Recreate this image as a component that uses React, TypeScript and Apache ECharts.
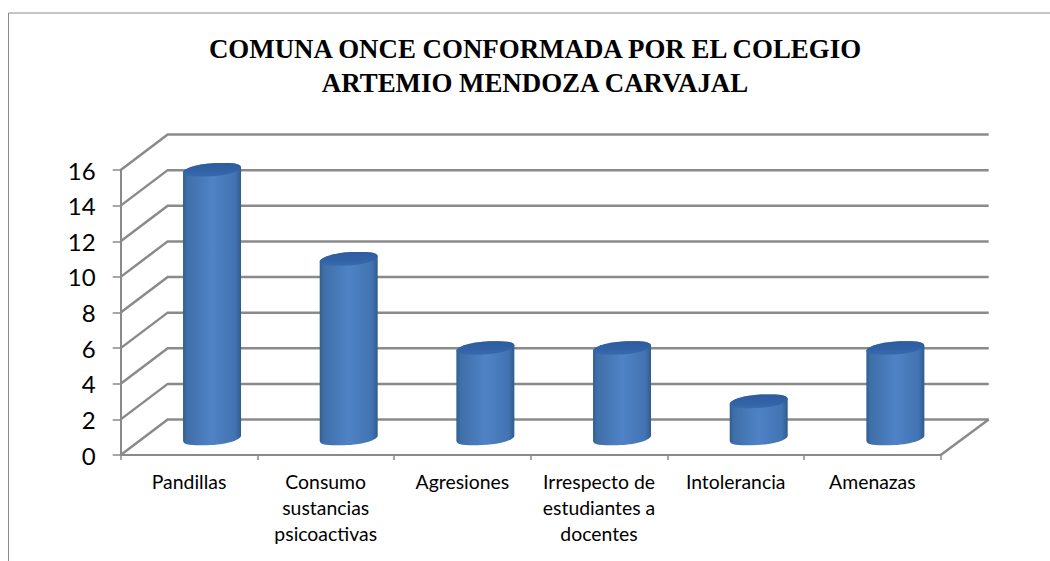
import React, { useEffect, useRef } from "react";
import * as echarts from "echarts";

const titleText = "COMUNA ONCE CONFORMADA POR EL COLEGIO\nARTEMIO MENDOZA CARVAJAL";
const categories = [
  "Pandillas",
  "Consumo\nsustancias\npsicoactivas",
  "Agresiones",
  "Irrespecto de\nestudiantes a\ndocentes",
  "Intolerancia",
  "Amenazas",
];
const values = [15, 10, 5, 5, 2, 5];
const yTicks = [0, 2, 4, 6, 8, 10, 12, 14, 16];

const DEPTH_X = 47;
const DEPTH_Y = 35.5;
const GRID_COLOR = "#8a8a8a";

export default function App() {
  const ref = useRef<HTMLDivElement>(null);
  useEffect(() => {
    const chart = echarts.init(ref.current!, null, { renderer: "svg" });
    chart.setOption({
      animation: false,
      backgroundColor: "#ffffff",
      title: {
        text: titleText,
        left: 530,
        top: 27,
        textAlign: "center",
        textStyle: {
          fontFamily: "Liberation Serif",
          fontWeight: "bold",
          fontSize: 26.9,
          lineHeight: 34,
          color: "#000000",
        },
      },
      grid: { left: 120.7, top: 170, width: 820, height: 285, containLabel: false },
      xAxis: {
        type: "category",
        data: categories,
        boundaryGap: true,
        axisLine: { show: true, lineStyle: { color: GRID_COLOR, width: 2 } },
        axisTick: { show: true, length: 5, alignWithLabel: false, lineStyle: { color: GRID_COLOR, width: 1.5 } },
        axisLabel: {
          interval: 0,
          margin: 13,
          fontFamily: "Lato",
          fontSize: 19.4,
          lineHeight: 26,
          color: "#000000",
          verticalAlign: "top",
        },
      },
      yAxis: {
        type: "value",
        min: 0,
        max: 16,
        interval: 2,
        splitLine: { show: false },
        axisLine: { show: true, lineStyle: { color: GRID_COLOR, width: 2 } },
        axisTick: { show: true, length: 8, lineStyle: { color: GRID_COLOR, width: 1.5 } },
        axisLabel: { margin: 25, fontFamily: "Lato", fontSize: 24, color: "#000000", padding: [4, 0, 0, 0] },
      },
      graphic: [
        {
          type: "polyline",
          silent: true,
          shape: { points: [[8.5, 561], [8.5, 13], [1050, 13]] },
          style: { stroke: "#8c8c8c", lineWidth: 1, fill: "none" },
        },
      ],
      series: [
        {
          type: "custom",
          z: 1,
          silent: true,
          data: yTicks.map((t) => [0, t]),
          encode: { x: 0, y: 1 },
          renderItem: (params: any, api: any) => {
            const cs = params.coordSys;
            const v = api.value(1);
            const y = api.coord([0, v])[1];
            const x0 = cs.x;
            const x1 = cs.x + cs.width;
            const style = { stroke: GRID_COLOR, lineWidth: 2.5, fill: "none" };
            const children: any[] = [
              {
                type: "polyline",
                shape: { points: [[x0, y], [x0 + DEPTH_X, y - DEPTH_Y], [x1 + DEPTH_X + 1, y - DEPTH_Y]] },
                style,
              },
            ];
            if (v === 0) {
              children.push({
                type: "line",
                shape: { x1, y1: y, x2: x1 + DEPTH_X + 1, y2: y - DEPTH_Y },
                style,
              });
            }
            return { type: "group", children };
          },
        },
        {
          type: "custom",
          z: 5,
          silent: true,
          data: values.map((v, i) => [i, v]),
          encode: { x: 0, y: 1 },
          renderItem: (_params: any, api: any) => {
            const i = api.value(0);
            const v = api.value(1);
            const top = api.coord([i, v]);
            const base = api.coord([i, 0]);
            const cx = top[0] + 23;
            const ry = 6.8;
            const lift = 18;
            const tan = 2.5;
            const yt = top[1] - lift;
            const yb = base[1] - lift + 1.5;
            const lx = cx - 29;
            const rr = cx + 29;
            const upper = (yc: number) =>
              `C ${lx + 1.5} ${yc + tan - ry * 0.75} ${cx - 10} ${yc - ry} ${cx + 8} ${yc - ry} ` +
              `C ${cx + 20} ${yc - ry} ${rr - 0.5} ${yc - tan - ry * 0.6} ${rr} ${yc - tan} `;
            const lower = (yc: number) =>
              `C ${rr - 1.5} ${yc - tan + ry * 0.75} ${cx + 10} ${yc + ry} ${cx - 8} ${yc + ry} ` +
              `C ${cx - 20} ${yc + ry} ${lx + 0.5} ${yc + tan + ry * 0.6} ${lx} ${yc + tan} `;
            const body =
              `M ${lx} ${yt + tan} ` + upper(yt) + `L ${rr} ${yb - tan} ` + lower(yb) + "Z";
            const cap = `M ${lx} ${yt + tan} ` + upper(yt) + lower(yt) + "Z";
            return {
              type: "group",
              children: [
                {
                  type: "path",
                  shape: { pathData: body },
                  style: {
                    fill: new echarts.graphic.LinearGradient(0, 0, 1, 0, [
                      { offset: 0, color: "#315e90" },
                      { offset: 0.07, color: "#3f6fa9" },
                      { offset: 0.5, color: "#4f83c6" },
                      { offset: 0.9, color: "#4273b2" },
                      { offset: 1, color: "#305c8c" },
                    ]),
                    stroke: "none",
                  },
                },
                {
                  type: "path",
                  shape: { pathData: cap },
                  style: {
                    fill: new echarts.graphic.LinearGradient(0, 0, 0, 1, [
                      { offset: 0, color: "#2e5b9f" },
                      { offset: 0.7, color: "#3364a8" },
                      { offset: 1, color: "#376cae" },
                    ]),
                    stroke: "none",
                  },
                },
              ],
            };
          },
        },
      ],
    });
    return () => chart.dispose();
  }, []);
  return <div ref={ref} style={{ position: "absolute", left: 0, top: 0, width: 1050, height: 561 }} />;
}
